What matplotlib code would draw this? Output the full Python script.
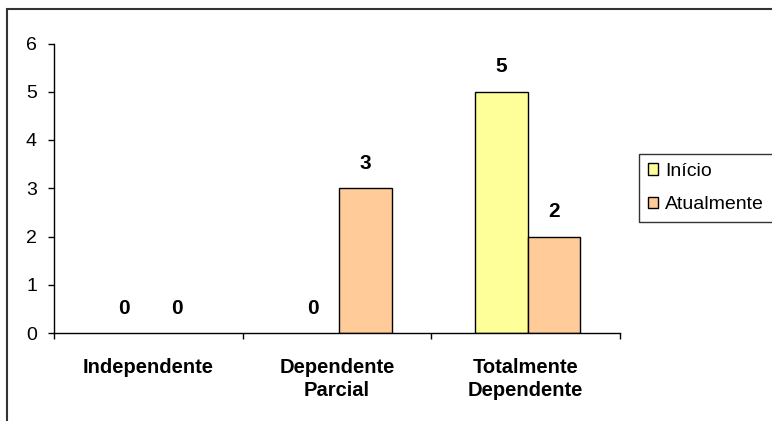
import matplotlib
matplotlib.use("Agg")
import matplotlib.pyplot as plt
from matplotlib.patches import Rectangle, Patch

categories = ["Independente", "Dependente\nParcial", "Totalmente\nDependente"]
series_names = ["Início", "Atualmente"]
inicio = [0, 0, 5]
atualmente = [0, 3, 2]
yticks = [0, 1, 2, 3, 4, 5, 6]
colors = ["#FFFF99", "#FFCC99"]

plt.rcParams["font.family"] = ["Liberation Sans", "DejaVu Sans"]

W, H = 772, 421
fig = plt.figure(figsize=(W / 100, H / 100), dpi=100)
ax = fig.add_axes([54 / W, 1 - 333 / H, (620 - 54) / W, (333 - 43.5) / H])

w = 0.28
off = 0.01
centers = [i + 0.5 for i in range(len(categories))]
b1 = ax.bar([c - w / 2 + off for c in centers], inicio, width=w,
            color=colors[0], edgecolor="black",
            linewidth=[1 if v > 0 else 0 for v in inicio])
b2 = ax.bar([c + w / 2 + off for c in centers], atualmente, width=w,
            color=colors[1], edgecolor="black",
            linewidth=[1 if v > 0 else 0 for v in atualmente])

for bars, vals in ((b1, inicio), (b2, atualmente)):
    for r, v in zip(bars, vals):
        ax.annotate(str(v), (r.get_x() + r.get_width() / 2, v),
                    xytext=(0, 25), textcoords="offset pixels",
                    ha="center", va="center", fontsize=15, fontweight="bold")

ax.set_xlim(0, len(categories))
ax.set_ylim(0, 6)
ax.set_yticks(yticks)
ax.set_yticklabels([str(t) for t in yticks])
ax.tick_params(axis="y", direction="out", length=4.3, width=1, pad=8, labelsize=14)

ax.set_xticks(range(len(categories) + 1))
ax.set_xticklabels([])
ax.set_xticks(centers, minor=True)
ax.set_xticklabels(categories, minor=True, fontsize=14.5, fontweight="bold", linespacing=1.3)
ax.tick_params(axis="x", which="major", direction="out", length=4, width=1)
ax.tick_params(axis="x", which="minor", length=0, pad=18)

for s in ("top", "right"):
    ax.spines[s].set_visible(False)
for s in ("left", "bottom"):
    ax.spines[s].set_color("black")
    ax.spines[s].set_linewidth(1)

handles = [Patch(facecolor=c, edgecolor="black", linewidth=1) for c in colors]
leg = fig.legend(handles, series_names, loc="upper left",
                 bbox_to_anchor=(639 / W, 1 - 154 / H),
                 bbox_transform=fig.transFigure, borderaxespad=0,
                 fontsize=14, frameon=True, fancybox=False, shadow=False,
                 handlelength=0.55, handleheight=0.55, handletextpad=0.35,
                 labelspacing=0.85, borderpad=0.45)
leg.get_frame().set_edgecolor("black")
leg.get_frame().set_linewidth(1)

fig.patches.append(Rectangle((7 / W, -0.1), 1.2, (H - 9) / H + 0.1,
                             transform=fig.transFigure, fill=False,
                             edgecolor="#333333", linewidth=1.5))

fig.savefig("out.png", dpi=100)
